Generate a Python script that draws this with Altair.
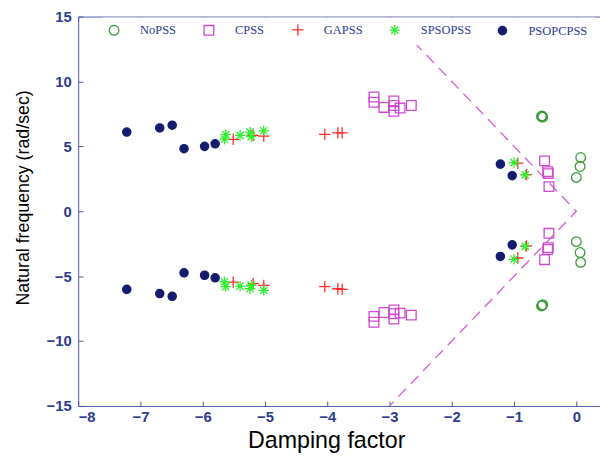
import altair as alt
import pandas as pd

# ---------------- data ----------------
series = ["NoPSS", "CPSS", "GAPSS", "SPSOPSS", "PSOPCPSS"]

nopss_x = [-0.55, -0.56, -0.54, 0.07, 0.06, 0.0, -0.55, -0.56, -0.54, 0.0, 0.06, 0.07]
nopss_y = [7.35, 7.3, 7.25, 4.14, 3.45, 2.61, -7.25, -7.3, -7.2, -2.34, -3.18, -3.94]

cpss_x = [-3.25, -3.25, -3.09, -2.93, -2.93, -2.93, -2.83, -2.65, -0.51, -0.46, -0.45, -0.44,
          -3.25, -3.25, -3.09, -2.93, -2.93, -2.93, -2.83, -2.65, -0.51, -0.46, -0.45, -0.44]
cpss_y = [8.8, 8.4, 8.0, 8.5, 8.15, 7.7, 7.95, 8.15, 3.88, 3.05, 2.9, 1.9,
          -8.1, -8.55, -7.8, -7.6, -7.9, -8.3, -7.85, -8.0, -3.73, -2.95, -2.8, -1.7]

gapss_x = [-5.51, -5.19, -5.02, -4.04, -3.83, -3.76, -0.94, -0.80,
           -5.51, -5.19, -5.02, -4.04, -3.83, -3.76, -0.94, -0.80]
gapss_y = [5.54, 5.84, 5.79, 5.92, 6.04, 6.04, 3.7, 2.82,
           -5.46, -5.58, -5.71, -5.81, -5.97, -6.02, -3.6, -2.67]

spso_x = [-5.63, -5.65, -5.40, -5.24, -5.22, -5.02, -1.00, -0.82,
          -5.65, -5.63, -5.40, -5.24, -5.22, -5.02, -1.00, -0.82]
spso_y = [5.9, 5.55, 5.85, 6.1, 5.75, 6.2, 3.75, 2.8,
          -5.43, -5.81, -5.77, -5.97, -5.7, -6.1, -3.7, -2.7]

psopc_x = [-7.22, -6.69, -6.49, -6.30, -5.97, -5.80, -1.22, -1.03,
           -7.22, -6.69, -6.49, -6.30, -5.97, -5.80, -1.22, -1.03]
psopc_y = [6.1, 6.42, 6.63, 4.82, 5.0, 5.2, 3.63, 2.74,
           -6.02, -6.34, -6.55, -4.74, -4.93, -5.13, -3.48, -2.59]

# damping boundary (dashed)
bound_x = [-3, 0, -3]
bound_y = [15, 0, -15]

x_ticks = [-8, -7, -6, -5, -4, -3, -2, -1, 0]
y_ticks = [-15, -10, -5, 0, 5, 10, 15]

# ---------------- build tables ----------------
rows = []
for name, xs, ys in [("NoPSS", nopss_x, nopss_y), ("CPSS", cpss_x, cpss_y),
                     ("GAPSS", gapss_x, gapss_y), ("SPSOPSS", spso_x, spso_y),
                     ("PSOPCPSS", psopc_x, psopc_y)]:
    for x, y in zip(xs, ys):
        rows.append({"x": x, "y": y, "series": name})
df = pd.DataFrame(rows)
bdf = pd.DataFrame({"x": bound_x, "y": bound_y, "o": list(range(len(bound_x)))})

AX = "#4b5aaa"
LBL = "#2d3b8f"
W, H = 528, 394
xs_scale = alt.Scale(domain=[-8, 0.38], nice=False, zero=False)
ys_scale = alt.Scale(domain=[-15, 15], nice=False, zero=False)

stroke_colors = ["#3a9a3a", "#d04ad0", "#ff2a2a", "#2ef02e", "#141c6e"]
fill_colors = ["transparent", "transparent", "transparent", "transparent", "#141c6e"]
shapes = ["circle", "square",
          "M-1.1,0L1.1,0M0,-1.1L0,1.1",
          "M-1,0L1,0M0,-1L0,1M-0.7,-0.7L0.7,0.7M-0.7,0.7L0.7,-0.7",
          "circle"]
sizes = [95, 95, 110, 110, 70]

line = alt.Chart(bdf).mark_line(color="#d65ad6", strokeDash=[11, 7], strokeWidth=1.3, clip=True).encode(
    x=alt.X("x:Q", scale=xs_scale, axis=None),
    y=alt.Y("y:Q", scale=ys_scale, axis=None),
    order="o:Q",
)

pts = alt.Chart(df).mark_point(filled=False, strokeWidth=1.3, opacity=1).encode(
    x=alt.X("x:Q", scale=xs_scale, axis=alt.Axis(
        orient="bottom", values=x_ticks, ticks=False, tickSize=0, labelPadding=4,
        grid=True, gridDash=[5, 384, 5, 3000], gridColor=AX, gridOpacity=1, gridWidth=1,
        title="Damping factor", titleFontSize=23.5, titleX=251, titleY=42,
        titleBaseline="alphabetic")),
    y=alt.Y("y:Q", scale=ys_scale, axis=alt.Axis(
        orient="left", values=y_ticks, ticks=False, tickSize=0, labelPadding=7,
        grid=True, gridDash=[5, 3000], gridColor=AX, gridOpacity=1, gridWidth=1,
        title="Natural frequency (rad/sec)", titleFontSize=18, titleX=-50, titleY=183,
        titleBaseline="alphabetic", titleAlign="center", titleAngle=270)),
    color=alt.Color("series:N", scale=alt.Scale(domain=series, range=stroke_colors), title=None),
    fill=alt.Fill("series:N", scale=alt.Scale(domain=series, range=fill_colors), title=None),
    shape=alt.Shape("series:N", scale=alt.Scale(domain=series, range=shapes), title=None),
    size=alt.Size("series:N", scale=alt.Scale(type="ordinal", domain=series, range=sizes), title=None),
)

border = alt.Chart(bdf).mark_line(opacity=0).encode(
    x=alt.X("x:Q", scale=xs_scale, axis=alt.Axis(orient="top", labels=False, ticks=False,
                                                 tickSize=0, grid=False, domain=True, title=None)),
    y=alt.Y("y:Q", scale=ys_scale, axis=None),
)

chart = alt.layer(line, pts, border).resolve_axis(x="independent", y="independent").properties(
    width=W, height=H,
    padding={"left": 71, "top": 6, "right": 0, "bottom": 50},
    autosize=alt.AutoSizeParams(type="none"),
).configure_view(stroke=None).configure_axis(
    domainColor=AX, domainWidth=1,
    labelColor=LBL, labelFont="Liberation Sans Narrow, Arial Narrow, Liberation Sans, sans-serif",
    labelFontWeight="bold", labelFontSize=15,
    titleColor="black", titleFont="Liberation Sans, Arial, sans-serif", titleFontWeight="normal",
).configure_legend(
    orient="none", legendX=24, legendY=1, direction="horizontal", columns=5,
    columnPadding=24, labelOffset=20, padding=6, fillColor="white", strokeColor="white",
    symbolStrokeWidth=1.3, labelFont="Liberation Serif, Times New Roman, serif",
    labelFontSize=12.6, labelColor=LBL,
)

chart.save("out.html", embed_options={"renderer": "svg", "actions": False})
